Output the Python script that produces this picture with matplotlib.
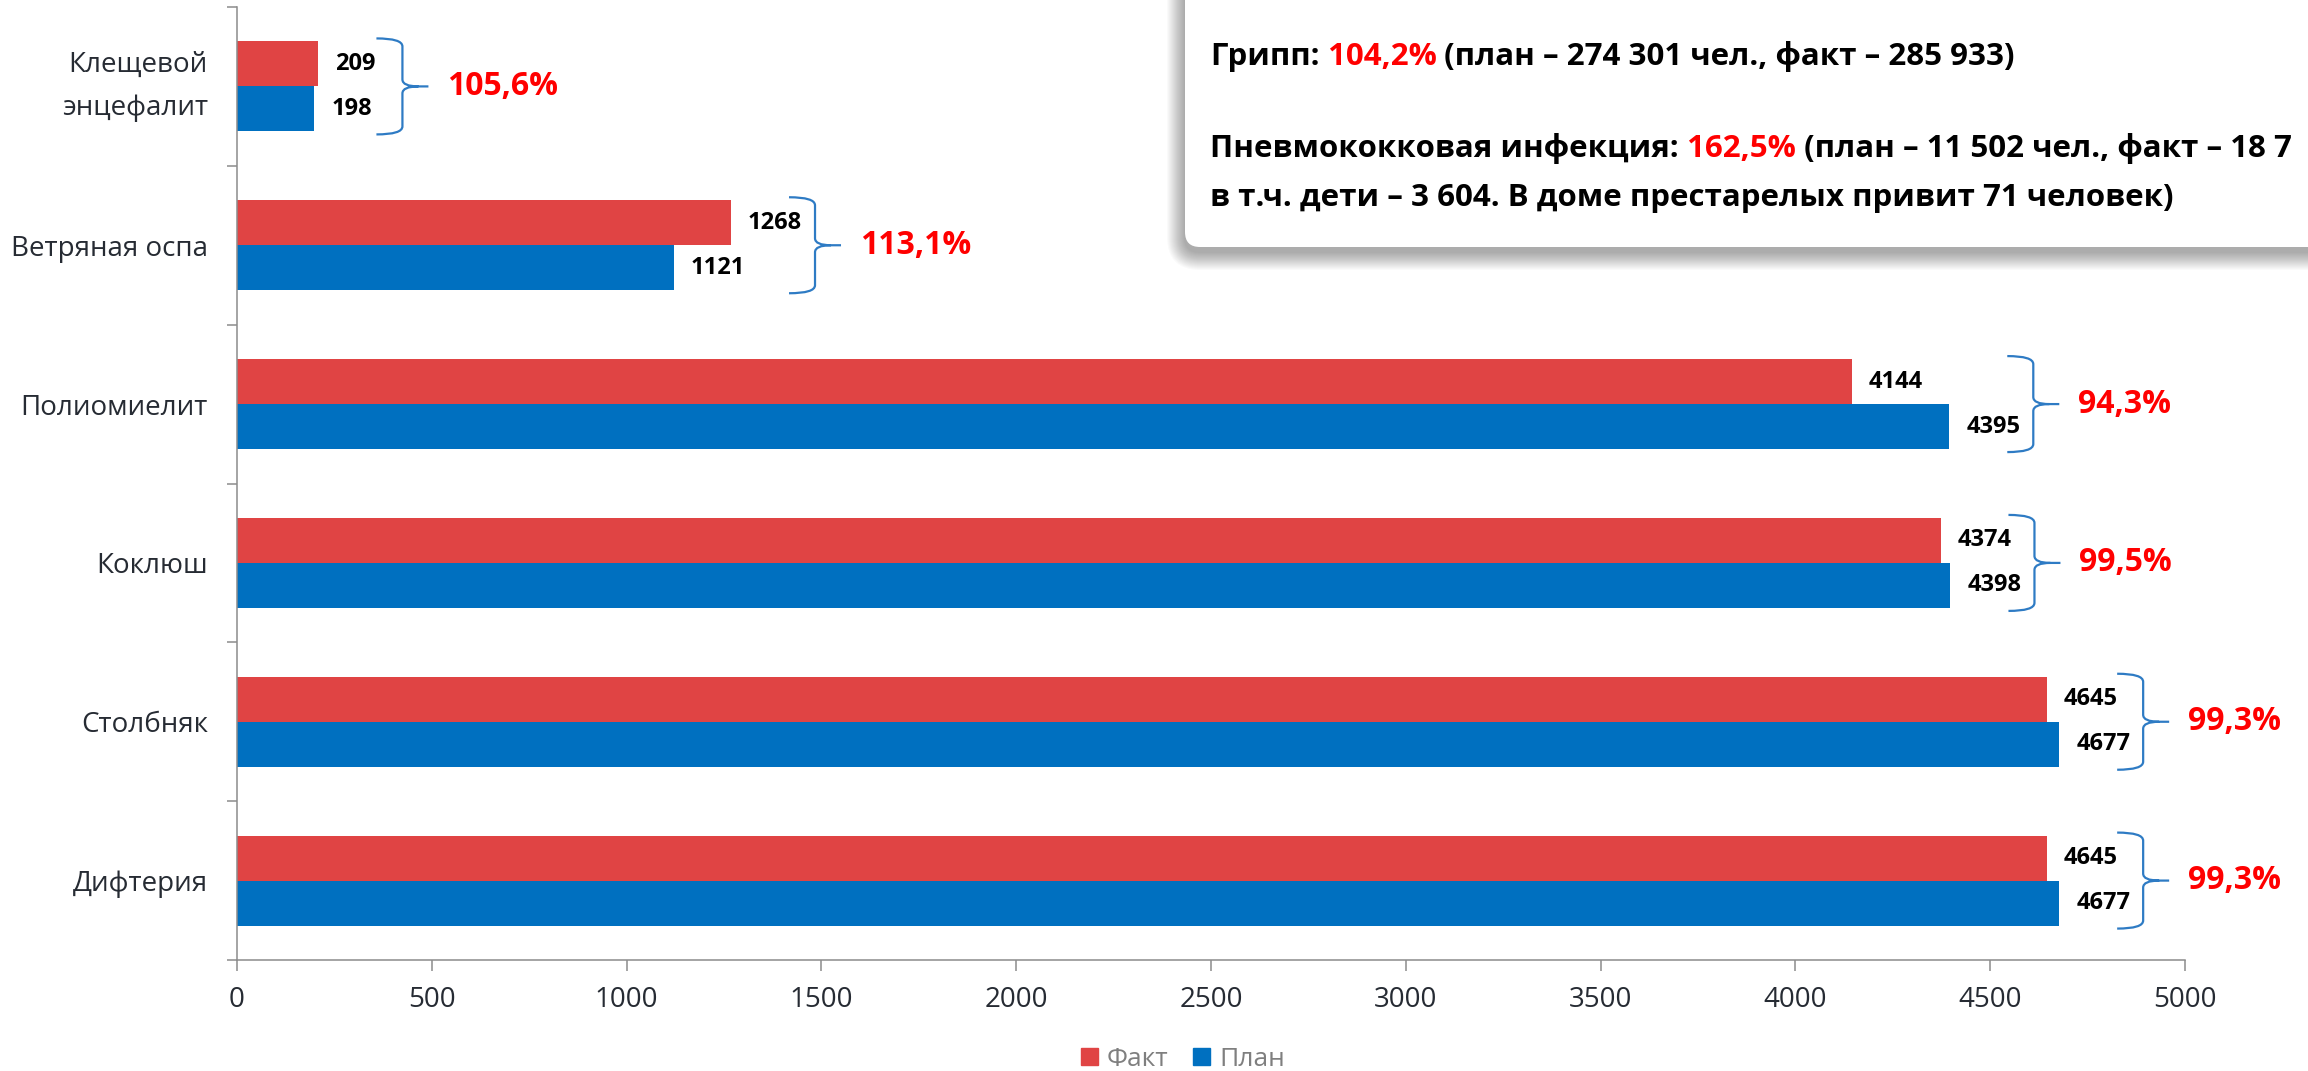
import matplotlib
matplotlib.use('Agg')
import matplotlib.pyplot as plt
from matplotlib.patches import Patch, FancyBboxPatch, PathPatch
from matplotlib.path import Path
from matplotlib.transforms import IdentityTransform

plt.rcParams['font.family'] = ['Open Sans', 'DejaVu Sans']

# данные (снизу вверх)
categories = ['Дифтерия', 'Столбняк', 'Коклюш', 'Полиомиелит',
              'Ветряная оспа', 'Клещевой\nэнцефалит']
fact = [4645, 4645, 4374, 4144, 1268, 209]
plan = [4677, 4677, 4398, 4395, 1121, 198]
percent = ['99,3%', '99,3%', '99,5%', '94,3%', '113,1%', '105,6%']
xticks = [0, 500, 1000, 1500, 2000, 2500, 3000, 3500, 4000, 4500, 5000]

RED = '#E04444'
BLUE = '#0070C0'
BRACE = '#2E7BC4'
TXT = '#262b33'

W, H = 2308, 1071
fig = plt.figure(figsize=(W / 100, H / 100), dpi=100)
left, right, top, bottom = 237, 2185, 7, 960
ax = fig.add_axes([left / W, (H - bottom) / H, (right - left) / W, (bottom - top) / H])

h = 0.283
y = list(range(len(categories)))
ax.barh([i + h / 2 for i in y], fact, h, color=RED, label='Факт')
ax.barh([i - h / 2 for i in y], plan, h, color=BLUE, label='План')

ax.set_xlim(0, 5000)
ax.set_ylim(-0.5, len(categories) - 0.5)
ax.set_xticks(xticks)
ax.set_xticklabels([str(v) for v in xticks])
ax.set_yticks(y)
ax.set_yticklabels(categories)
ax.set_yticks([i - 0.5 for i in range(len(categories) + 1)], minor=True)
ax.tick_params(axis='y', which='major', length=0, pad=21, labelsize=20, labelcolor=TXT)
ax.tick_params(axis='y', which='minor', length=7.5, width=1.1, color='#8c8c8c')
ax.tick_params(axis='x', length=8, width=1.1, color='#8c8c8c', pad=11,
               labelsize=20, labelcolor=TXT)
two_line = ax.get_yticklabels()[-1]
two_line.set_linespacing(1.68)
two_line.set_va('center')
for s in ['top', 'right']:
    ax.spines[s].set_visible(False)
for s in ['left', 'bottom']:
    ax.spines[s].set_color('#8c8c8c')
    ax.spines[s].set_linewidth(1.1)

# пересчёт пикселей в данные
upx = 5000 / (right - left)
vpx = (len(categories)) / (bottom - top)

for i in y:
    ax.text(fact[i] + 17 * upx, i + h / 2, str(fact[i]), va='center', ha='left',
            fontsize=17, fontweight='bold', color='black')
    ax.text(plan[i] + 17 * upx, i - h / 2, str(plan[i]), va='center', ha='left',
            fontsize=17, fontweight='bold', color='black')

    # фигурная скобка
    x0 = max(fact[i], plan[i]) + 58 * upx
    pts = [(0, 48), (26, 48), (26, 40), (26, 7), (26, 0), (42, 0), (52, 0),
           (42, 0), (26, 0), (26, -7), (26, -40), (26, -48), (0, -48)]
    codes = [Path.MOVETO, Path.CURVE3, Path.CURVE3, Path.LINETO, Path.CURVE3, Path.CURVE3,
             Path.LINETO, Path.MOVETO, Path.CURVE3, Path.CURVE3, Path.LINETO,
             Path.CURVE3, Path.CURVE3]
    verts = [(x0 + px * upx, i + py * vpx) for px, py in pts]
    ax.add_patch(PathPatch(Path(verts, codes), fill=False, edgecolor=BRACE,
                           linewidth=1.6, clip_on=False))
    ax.text(x0 + 71 * upx, i, percent[i], va='center', ha='left',
            fontsize=23, fontweight='bold', color='#FF0000')

# плашка с текстом
box_b = H - 247
for k in range(18, 0, -1):
    fig.add_artist(FancyBboxPatch((1185 - k, box_b - 5 - k), 1300 + 2 * k, 400 + 2 * k,
                                  boxstyle='round,pad=0,rounding_size=%d' % (15 + k),
                                  transform=IdentityTransform(), facecolor='black',
                                  edgecolor='none', alpha=0.02))
fig.add_artist(FancyBboxPatch((1185, box_b), 1300, 400,
                              boxstyle='round,pad=0,rounding_size=15',
                              transform=IdentityTransform(), facecolor='white',
                              edgecolor='none'))

renderer = fig.canvas.get_renderer()


def rich_line(x, yb, parts):
    for s, c in parts:
        t = fig.text(x / W, yb / H, s, color=c, fontsize=22.5, fontweight='bold',
                     va='baseline', ha='left')
        x = t.get_window_extent(renderer).x1


rich_line(1210, H - 65, [('Грипп:', 'black'), (' 104,2%', '#FF0000'),
                         (' (план – 274 301 чел., факт – 285 933)', 'black')])
rich_line(1210, H - 157, [('Пневмококковая инфекция:', 'black'), (' 162,5%', '#FF0000'),
                          (' (план – 11 502 чел., факт – 18 7', 'black')])
rich_line(1210, H - 206, [('в т.ч. дети – 3 604. В доме престарелых привит 71 человек)', 'black')])

fig.legend(handles=[Patch(color=RED, label='Факт'), Patch(color=BLUE, label='План')],
           loc='center', bbox_to_anchor=(1183 / W, 12 / H), ncol=2, frameon=False,
           fontsize=19, labelcolor='#7f7f7f', handlelength=0.64, handleheight=0.64,
           handletextpad=0.35, columnspacing=0.95, borderpad=0, borderaxespad=0)

fig.savefig('out.png', dpi=100)
